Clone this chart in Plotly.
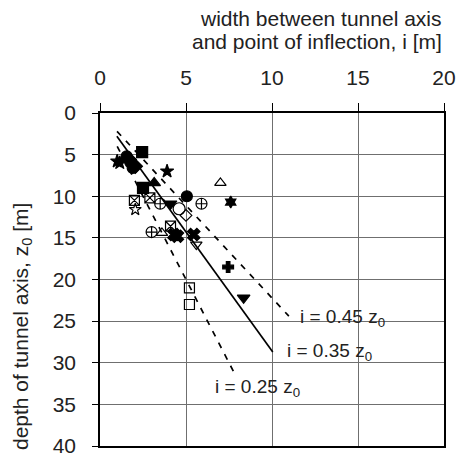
import plotly.graph_objects as go

# ---- data (i [m], z0 [m]) ----
filled_square_i = [2.45, 2.5]
filled_square_z = [4.7, 9.0]
filled_star_i = [1.15, 3.9, 1.0]
filled_star_z = [6.0, 7.0, 5.8]
filled_circle_i = [1.55, 1.9, 5.05, 1.75]
filled_circle_z = [5.2, 6.6, 10.0, 5.9]
filled_diamond_i = [1.7, 2.05]
filled_diamond_z = [5.6, 6.4]
filled_tri_up_i = [3.15]
filled_tri_up_z = [8.4]
filled_tri_down_i = [4.1, 8.35]
filled_tri_down_z = [10.9, 22.2]
open_tri_up_i = [7.0, 3.6]
open_tri_up_z = [8.4, 14.4]
square_x_i = [2.0, 2.9, 4.1]
square_x_z = [10.5, 10.2, 13.6]
circle_cross_i = [3.5, 5.9, 3.0]
circle_cross_z = [10.9, 10.9, 14.3]
open_circle_i = [4.6]
open_circle_z = [11.5]
open_diamond_i = [5.0]
open_diamond_z = [12.3]
open_star_i = [2.05]
open_star_z = [11.6]
hexagram_i = [7.6]
hexagram_z = [10.7]
x_filled_i = [4.3, 5.45, 4.5]
x_filled_z = [14.6, 14.6, 14.8]
open_tri_down_i = [5.6]
open_tri_down_z = [15.8]
cross_i = [7.45]
cross_z = [18.5]
open_square_i = [5.2, 5.2]
open_square_z = [21.0, 23.0]

# relation lines i = k * z0
k_values = [0.45, 0.35, 0.25]
z_start = [2.2, 2.8, 4.0]
z_end = [24.4, 28.7, 31.0]
line_dash = ["6px,7px", "solid", "6px,7px"]
line_labels = ["i = 0.45 z<sub>0</sub>", "i = 0.35 z<sub>0</sub>", "i = 0.25 z<sub>0</sub>"]
label_pos_i = [11.5, 10.75, 6.55]
label_pos_z = [24.6, 28.7, 33.0]

x_ticks = [0, 5, 10, 15, 20]
y_ticks = [0, 5, 10, 15, 20, 25, 30, 35, 40]

fig = go.Figure()

for k, zs, ze, dash in zip(k_values, z_start, z_end, line_dash):
    fig.add_trace(go.Scatter(x=[k * zs, k * ze], y=[zs, ze], mode="lines",
                             line=dict(color="black", width=1.7, dash=dash),
                             showlegend=False, hoverinfo="skip"))

series = [
    (filled_square_i, filled_square_z, "square", 11),
    (filled_star_i, filled_star_z, "star", 10),
    (filled_circle_i, filled_circle_z, "circle", 11),
    (filled_diamond_i, filled_diamond_z, "diamond", 11),
    (filled_tri_up_i, filled_tri_up_z, "triangle-up", 11),
    (filled_tri_down_i, filled_tri_down_z, "triangle-down", 11),
    (open_tri_up_i, open_tri_up_z, "triangle-up-open", 10),
    (square_x_i, square_x_z, "square-x-open", 10),
    (circle_cross_i, circle_cross_z, "circle-cross-open", 11),
    (open_circle_i, open_circle_z, "circle-open", 12),
    (open_diamond_i, open_diamond_z, "diamond-open", 9),
    (open_star_i, open_star_z, "star-open", 9),
    (hexagram_i, hexagram_z, "hexagram", 9),
    (x_filled_i, x_filled_z, "x", 11),
    (open_tri_down_i, open_tri_down_z, "triangle-down-open", 10),
    (cross_i, cross_z, "cross", 9),
    (open_square_i, open_square_z, "square-open", 10),
]
for xs, ys, sym, size in series:
    fig.add_trace(go.Scatter(x=xs, y=ys, mode="markers",
                             marker=dict(symbol=sym, size=size, color="black",
                                         line=dict(color="black", width=1.2)),
                             showlegend=False))

for txt, xi, zi in zip(line_labels, label_pos_i, label_pos_z):
    fig.add_annotation(x=xi, y=zi, text=txt, showarrow=False, xanchor="left",
                       yanchor="middle", font=dict(size=19, color="#222"))

fig.add_annotation(xref="paper", yref="paper", x=1.0, y=1.283,
                   text="width between tunnel axis", showarrow=False,
                   xanchor="right", yanchor="middle", font=dict(size=21, color="#222"))
fig.add_annotation(xref="paper", yref="paper", x=1.0, y=1.214,
                   text="and point of inflection, i [m]", showarrow=False,
                   xanchor="right", yanchor="middle", font=dict(size=21, color="#222"))
fig.add_annotation(xref="paper", yref="paper", x=-0.227, y=0.36,
                   text="depth of tunnel axis, z<sub>0</sub> [m]", showarrow=False,
                   textangle=-90, xanchor="center", yanchor="middle",
                   font=dict(size=21, color="#222"))

fig.update_xaxes(side="top", range=[0, 20], tickvals=x_ticks, ticks="outside",
                 ticklen=8, tickcolor="black", tickwidth=1.3, automargin=False,
                 showline=True, linecolor="black", linewidth=1.5, mirror=True,
                 showgrid=True, gridcolor="#6f6f6f", gridwidth=1, zeroline=False,
                 ticklabelstandoff=10, tickfont=dict(size=21, color="#222"))
fig.update_yaxes(range=[40, 0], tickvals=y_ticks, ticks="outside",
                 ticklen=6, tickcolor="black", tickwidth=1.3, automargin=False,
                 showline=True, linecolor="black", linewidth=1.5, mirror=True,
                 showgrid=True, gridcolor="#6f6f6f", gridwidth=1, zeroline=False,
                 ticklabelstandoff=12, tickfont=dict(size=21, color="#222"))

fig.update_layout(width=456, height=460, margin=dict(l=100, r=12, t=113, b=14),
                  plot_bgcolor="white", paper_bgcolor="white",
                  font=dict(family="Liberation Sans, Arial, sans-serif"))

fig.write_html("out.html")
